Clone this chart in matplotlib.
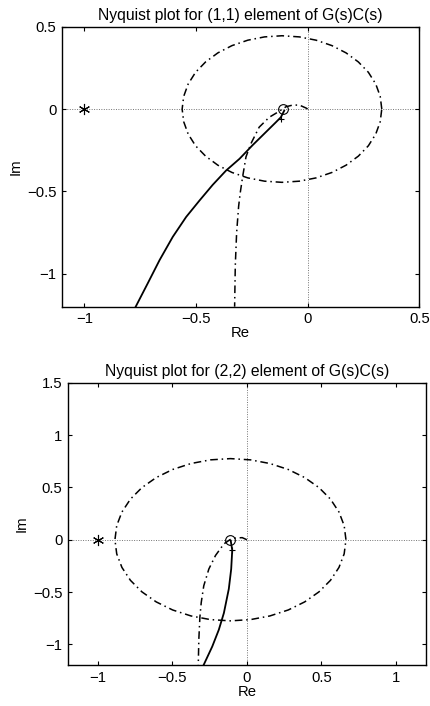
"""Nyquist plots of the (1,1) and (2,2) elements of G(s)C(s), MATLAB style."""

import matplotlib

matplotlib.use("Agg")
import matplotlib.pyplot as plt  # noqa: E402

plt.rcParams["font.family"] = ["Liberation Sans", "DejaVu Sans"]
plt.rcParams["font.size"] = 10.7

# ---- (1,1) element -------------------------------------------------------
# dash-dot closed contour
ell11_re = [0.332, 0.325, 0.305, 0.272, 0.227, 0.172, 0.109, 0.038, -0.037,
            -0.115, -0.193, -0.268, -0.339, -0.402, -0.457, -0.502, -0.535,
            -0.555, -0.562, -0.555, -0.535, -0.502, -0.457, -0.402, -0.339,
            -0.268, -0.193, -0.115, -0.037, 0.038, 0.109, 0.172, 0.227, 0.272,
            0.305, 0.325, 0.332]
ell11_im = [0.0, 0.077, 0.152, 0.223, 0.286, 0.341, 0.385, 0.418, 0.438,
            0.445, 0.438, 0.418, 0.385, 0.341, 0.286, 0.223, 0.152, 0.077,
            0.0, -0.077, -0.152, -0.223, -0.286, -0.341, -0.385, -0.418,
            -0.438, -0.445, -0.438, -0.418, -0.385, -0.341, -0.286, -0.223,
            -0.152, -0.077, 0.0]
# dash-dot branch (small loop at origin, then down)
br11_re = [0.0, -0.007, -0.037, -0.067, -0.097, -0.112, -0.135, -0.172,
           -0.217, -0.254, -0.276, -0.291, -0.302, -0.309, -0.318, -0.324, -0.327]
br11_im = [0.0, 0.006, 0.024, 0.024, 0.014, 0.0, -0.02, -0.05,
           -0.11, -0.21, -0.29, -0.41, -0.51, -0.59, -0.75, -0.95, -1.2]
# solid curve
sol11_re = [-0.105, -0.12, -0.142, -0.187, -0.247, -0.305, -0.365, -0.425,
            -0.484, -0.544, -0.604, -0.663, -0.716, -0.77]
sol11_im = [-0.01, -0.05, -0.08, -0.14, -0.22, -0.302, -0.373, -0.46,
            -0.555, -0.655, -0.776, -0.917, -1.058, -1.2]
circ11 = (-0.112, 0.0)
plus11 = (-0.12, -0.06)

# ---- (2,2) element -------------------------------------------------------
ell22_re = [0.665, 0.653, 0.618, 0.561, 0.484, 0.388, 0.278, 0.155, 0.025,
            -0.11, -0.245, -0.375, -0.498, -0.608, -0.704, -0.781, -0.838,
            -0.873, -0.885, -0.873, -0.838, -0.781, -0.704, -0.608, -0.498,
            -0.375, -0.245, -0.11, 0.025, 0.155, 0.278, 0.388, 0.484, 0.561,
            0.618, 0.653, 0.665]
ell22_im = [0.0, 0.135, 0.265, 0.388, 0.498, 0.594, 0.671, 0.728, 0.763,
            0.775, 0.763, 0.728, 0.671, 0.594, 0.498, 0.388, 0.265, 0.135,
            0.0, -0.135, -0.265, -0.388, -0.498, -0.594, -0.671, -0.728,
            -0.763, -0.775, -0.763, -0.728, -0.671, -0.594, -0.498, -0.388,
            -0.265, -0.135, 0.0]
br22_re = [0.0, -0.031, -0.076, -0.1, -0.114, -0.154, -0.21, -0.255,
           -0.289, -0.306, -0.315, -0.322, -0.326]
br22_im = [0.0, 0.02, 0.016, 0.008, 0.0, -0.04, -0.15, -0.28,
           -0.44, -0.60, -0.74, -0.95, -1.2]
sol22_re = [-0.108, -0.098, -0.105, -0.121, -0.154, -0.188, -0.232, -0.291]
sol22_im = [-0.01, -0.10, -0.28, -0.47, -0.70, -0.86, -1.02, -1.2]
circ22 = (-0.112, 0.0)
plus22 = (-0.098, -0.10)

crit = (-1.0, 0.0)

panels = [
    dict(title="Nyquist plot for (1,1) element of G(s)C(s)",
         ell=(ell11_re, ell11_im), br=(br11_re, br11_im), sol=(sol11_re, sol11_im),
         circ=circ11, plus=plus11,
         xlim=(-1.1, 0.5), ylim=(-1.2, 0.5),
         xticks=[-1, -0.5, 0, 0.5], xlabels=["\u22121", "\u22120.5", "0", "0.5"],
         yticks=[-1, -0.5, 0, 0.5], ylabels=["\u22121", "\u22120.5", "0", "0.5"],
         rect=[0.1442, 0.5656, 0.8309, 0.3966]),
    dict(title="Nyquist plot for (2,2) element of G(s)C(s)",
         ell=(ell22_re, ell22_im), br=(br22_re, br22_im), sol=(sol22_re, sol22_im),
         circ=circ22, plus=plus22,
         xlim=(-1.2, 1.2), ylim=(-1.2, 1.5),
         xticks=[-1, -0.5, 0, 0.5, 1], xlabels=["\u22121", "\u22120.5", "0", "0.5", "1"],
         yticks=[-1, -0.5, 0, 0.5, 1, 1.5],
         ylabels=["\u22121", "\u22120.5", "0", "0.5", "1", "1.5"],
         rect=[0.1581, 0.0576, 0.8319, 0.4003]),
]

DASHDOT = (0, (5, 2.5, 1, 2.5))

fig = plt.figure(figsize=(4.3, 7.06), dpi=100)
for p in panels:
    ax = fig.add_axes(p["rect"])
    # dotted zero axes
    ax.axhline(0, color="0.45", ls=(0, (1, 1.5)), lw=0.7, zorder=1)
    ax.axvline(0, color="0.45", ls=(0, (1, 1.5)), lw=0.7, zorder=1)
    ax.plot(*p["ell"], color="k", ls=DASHDOT, lw=1.1)
    ax.plot(*p["br"], color="k", ls=DASHDOT, lw=1.1)
    ax.plot(*p["sol"], color="k", ls="-", lw=1.3)
    ax.plot(*p["circ"], marker="o", ms=7, mfc="none", mec="k", mew=0.8)
    ax.plot(*p["plus"], marker="+", ms=4, color="k", mew=0.8)
    ax.plot(*crit, marker=(6, 2, 0), ms=8, color="k", mew=0.8)

    ax.set_xlim(*p["xlim"])
    ax.set_ylim(*p["ylim"])
    ax.set_xticks(p["xticks"], p["xlabels"])
    ax.set_yticks(p["yticks"], p["ylabels"])
    ax.tick_params(direction="in", length=3, width=0.8, top=True, right=True,
                   labelsize=10.7, pad=4)
    for s in ax.spines.values():
        s.set_linewidth(1.0)
    ax.set_title(p["title"], fontsize=11.3, pad=5)
    ax.set_xlabel("Re", labelpad=0)
    ax.set_ylabel("Im", labelpad=3)

fig.savefig("out.png", dpi=100, facecolor="white")
